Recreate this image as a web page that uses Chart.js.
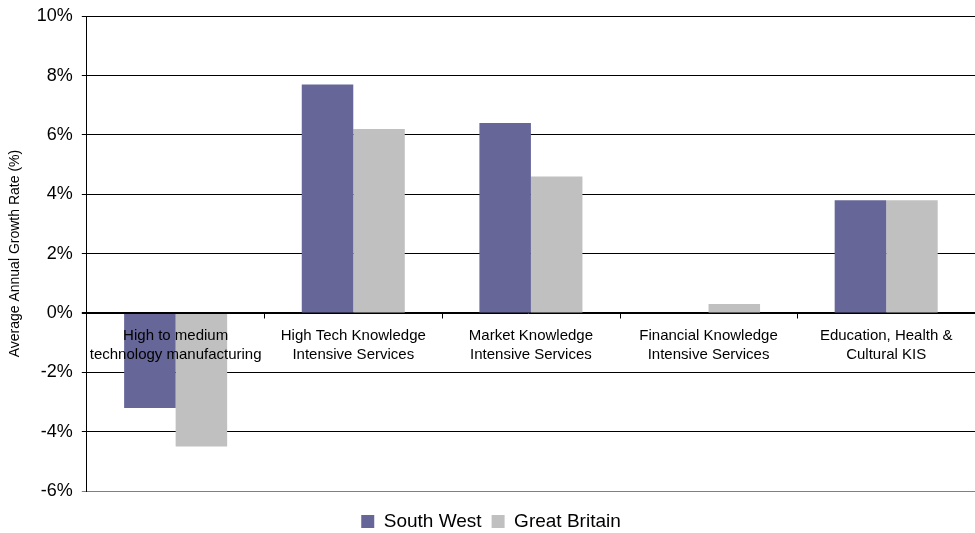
<!DOCTYPE html>
<html>
<head>
<meta charset="utf-8">
<script src="https://cdn.jsdelivr.net/npm/chart.js@4.4.0/dist/chart.umd.min.js"></script>
<style>
  html, body { margin: 0; padding: 0; background: #fff; overflow: hidden; }
  #wrap { width: 975px; height: 541px; }
</style>
</head>
<body>
<div id="wrap"><canvas id="bar"></canvas></div>
<script>
const categories = [
    ['High to medium', 'technology manufacturing'],
    ['High Tech Knowledge', 'Intensive Services'],
    ['Market Knowledge', 'Intensive Services'],
    ['Financial Knowledge', 'Intensive Services'],
    ['Education, Health &', 'Cultural KIS']
];
const southWest = [-3.2, 7.7, 6.4, 0, 3.8];
const greatBritain = [-4.5, 6.2, 4.6, 0.3, 3.8];
const yTicks = [-6, -4, -2, 0, 2, 4, 6, 8, 10];

const font = 'Liberation Sans, Arial, sans-serif';

// category labels sit on the zero line, drawn over the bars
const zeroLabels = {
    id: 'zeroLabels',
    afterDatasetsDraw(chart) {
        const ctx = chart.ctx;
        const x = chart.scales.x;
        const y = chart.scales.y;
        const y0 = Math.round(y.getPixelForValue(0)) + 0.5;
        ctx.save();
        ctx.strokeStyle = '#000';
        ctx.lineWidth = 1;
        ctx.beginPath();
        ctx.moveTo(chart.chartArea.left - 5, y0);
        ctx.lineTo(chart.chartArea.right, y0);
        // tick marks between categories
        for (let i = 1; i < categories.length; i++) {
            const px = Math.round((x.getPixelForValue(i - 1) + x.getPixelForValue(i)) / 2) + 0.5;
            ctx.moveTo(px, y0);
            ctx.lineTo(px, y0 + 5);
        }
        ctx.stroke();
        ctx.fillStyle = '#000';
        ctx.font = '15px ' + font;
        ctx.textAlign = 'center';
        ctx.textBaseline = 'middle';
        categories.forEach((lines, i) => {
            const cx = x.getPixelForValue(i);
            lines.forEach((t, j) => ctx.fillText(t, cx, y0 + 22 + j * 19));
        });
        ctx.restore();
    }
};

new Chart(document.getElementById('bar').getContext('2d'), {
    type: 'bar',
    data: {
        labels: categories.map(c => c.join(' ')),
        datasets: [{
            label: 'South West',
            data: southWest,
            backgroundColor: '#666699',
            borderWidth: 0
        }, {
            label: 'Great Britain',
            data: greatBritain,
            backgroundColor: '#C0C0C0',
            borderWidth: 0
        }]
    },
    options: {
        responsive: true,
        maintainAspectRatio: false,
        animation: false,
        categoryPercentage: 0.58,
        barPercentage: 1,
        layout: { padding: { top: 0, right: 0, left: 7, bottom: 0 } },
        plugins: {
            tooltip: { enabled: false },
            legend: {
                position: 'bottom',
                labels: {
                    font: { family: font, size: 19 },
                    color: '#000',
                    boxWidth: 13,
                    boxHeight: 13,
                    padding: 10
                }
            }
        },
        scales: {
            x: {
                display: true,
                ticks: { display: false },
                grid: { display: false },
                border: { display: false },
                afterFit(scale) { scale.height = 11; }
            },
            y: {
                min: -6,
                max: 10,
                afterBuildTicks(scale) {
                    scale.ticks = yTicks.map(v => ({ value: v }));
                },
                ticks: {
                    color: '#000',
                    font: { family: font, size: 18, lineHeight: 0.8 },
                    padding: 9,
                    callback: v => v + '%'
                },
                grid: {
                    color: ctx => ctx.tick && ctx.tick.value === -6 ? '#808080' : '#000',
                    lineWidth: 1,
                    tickLength: 5
                },
                border: { color: '#000' },
                title: {
                    display: true,
                    text: 'Average Annual Growth Rate (%)',
                    color: '#000',
                    font: { family: font, size: 14 },
                    padding: { top: 0, bottom: 4 }
                }
            }
        }
    },
    plugins: [zeroLabels]
});
</script>
</body>
</html>
